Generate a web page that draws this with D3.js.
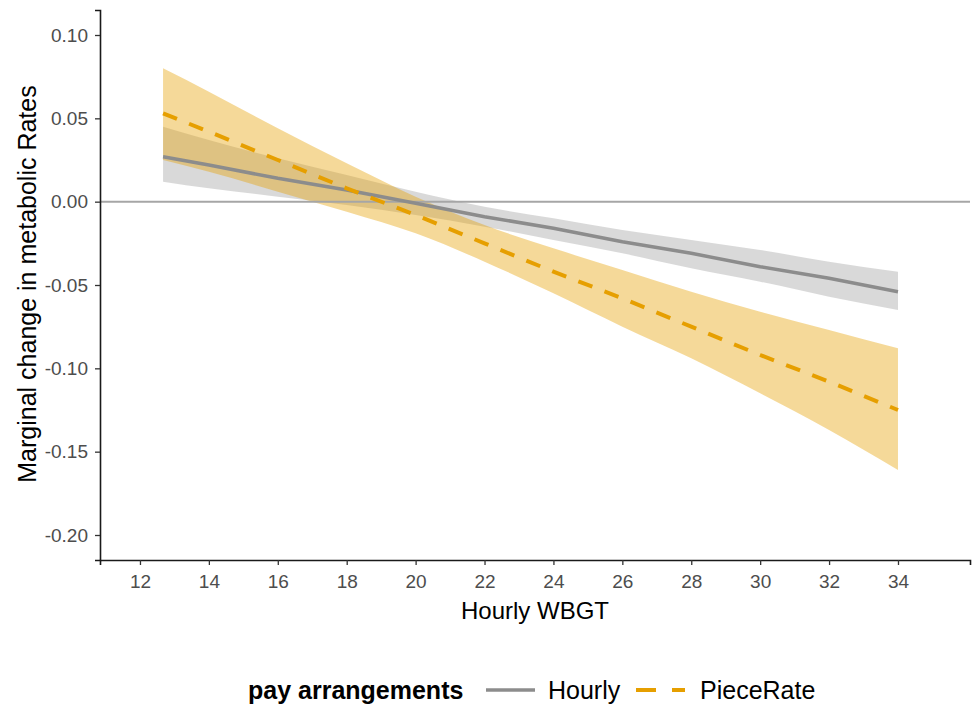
<!DOCTYPE html>
<html>
<head>
<meta charset="utf-8">
<script src="https://cdn.jsdelivr.net/npm/d3@7"></script>
<style>
  body { margin: 0; background: #fff; }
  svg { font-family: "Liberation Sans", Arial, sans-serif; }
</style>
</head>
<body>
<svg id="chart" width="972" height="704"></svg>
<script>
// WBGT values where the fitted lines / ribbons were read
const wbgt = [12.67, 14, 16, 18, 20, 22, 24, 26, 28, 30, 32, 34];

const hourlyFit   = [0.027, 0.022, 0.014, 0.007, -0.001, -0.009, -0.016, -0.024, -0.031, -0.039, -0.046, -0.054];
const hourlyLower = [0.012, 0.008, 0.003, -0.002, -0.008, -0.015, -0.023, -0.031, -0.040, -0.048, -0.057, -0.065];
const hourlyUpper = [0.045, 0.037, 0.026, 0.016, 0.006, -0.003, -0.010, -0.017, -0.023, -0.029, -0.036, -0.042];

const pieceFit   = [0.053, 0.042, 0.025, 0.008, -0.008, -0.025, -0.042, -0.058, -0.075, -0.092, -0.108, -0.125];
const pieceLower = [0.025, 0.018, 0.006, -0.006, -0.019, -0.036, -0.055, -0.075, -0.094, -0.115, -0.137, -0.161];
const pieceUpper = [0.080, 0.066, 0.044, 0.023, 0.003, -0.014, -0.028, -0.041, -0.054, -0.066, -0.077, -0.088];

const xTicks = [12, 14, 16, 18, 20, 22, 24, 26, 28, 30, 32, 34];
const yTicks = [0.10, 0.05, 0.00, -0.05, -0.10, -0.15, -0.20];

const svg = d3.select('#chart');
const mLeft = 100, mRight = 970, mTop = 10, mBottom = 560;

const x = d3.scaleLinear().domain([10.84, 36.09]).range([mLeft, mRight]);
const y = d3.scaleLinear().domain([-0.215, 0.115]).range([mBottom, mTop]);

const series = [
  { name: 'Hourly', fit: hourlyFit, lo: hourlyLower, hi: hourlyUpper,
    line: '#8c8c8c', fill: '#808080', fillOpacity: 0.3, dash: null, width: 3.5 },
  { name: 'PieceRate', fit: pieceFit, lo: pieceLower, hi: pieceUpper,
    line: '#E69F00', fill: '#E69F00', fillOpacity: 0.4, dash: '15,13', width: 4 }
];

const area = d3.area()
  .curve(d3.curveMonotoneX)
  .x((d, i) => x(wbgt[i]))
  .y0(d => y(d[0]))
  .y1(d => y(d[1]));
const line = d3.line()
  .x((d, i) => x(wbgt[i]))
  .y(d => y(d));

const plot = svg.append('g');

series.forEach(s => {
  plot.append('path')
    .datum(s.lo.map((v, i) => [v, s.hi[i]]))
    .attr('d', area)
    .attr('fill', s.fill)
    .attr('fill-opacity', s.fillOpacity);
});

// zero reference line
plot.append('line')
  .attr('x1', mLeft).attr('x2', mRight)
  .attr('y1', y(0)).attr('y2', y(0))
  .attr('stroke', '#a6a6a6')
  .attr('stroke-width', 2);

series.forEach(s => {
  plot.append('path')
    .datum(s.fit)
    .attr('d', line)
    .attr('fill', 'none')
    .attr('stroke', s.line)
    .attr('stroke-width', s.width)
    .attr('stroke-dasharray', s.dash);
});

// axes
const xAxis = d3.axisBottom(x).tickValues(xTicks).tickSize(5).tickPadding(10).tickFormat(d3.format('d'));
const yAxis = d3.axisLeft(y).tickValues(yTicks).tickSize(5).tickPadding(7).tickFormat(d => d.toFixed(2));

const gx = svg.append('g').attr('transform', 'translate(0,' + mBottom + ')').call(xAxis);
const gy = svg.append('g').attr('transform', 'translate(' + mLeft + ',0)').call(yAxis);

[gx, gy].forEach(g => {
  g.select('.domain').attr('stroke', '#1a1a1a').attr('stroke-width', 1.6);
  g.selectAll('.tick line').attr('stroke', '#333').attr('stroke-width', 1.3);
  g.selectAll('.tick text').attr('fill', '#4d4d4d').style('font-size', '19px');
});

svg.append('text')
  .attr('x', (mLeft + mRight) / 2).attr('y', 619)
  .attr('text-anchor', 'middle')
  .style('font-size', '24px').attr('fill', '#000')
  .text('Hourly WBGT');

svg.append('text')
  .attr('transform', 'translate(36,' + ((mTop + mBottom) / 2 - 1) + ') rotate(-90)')
  .attr('text-anchor', 'middle')
  .style('font-size', '25px').attr('fill', '#000')
  .text('Marginal change in metabolic Rates');

// legend
const lg = svg.append('g').attr('transform', 'translate(0,690)');
lg.append('text').attr('x', 248).attr('y', 9)
  .style('font-size', '25px').style('font-weight', 'bold')
  .text('pay arrangements');
const keyX = [486, 636];
const labelX = [548, 700];
series.forEach((s, i) => {
  lg.append('line')
    .attr('x1', keyX[i]).attr('x2', keyX[i] + 49)
    .attr('y1', 0).attr('y2', 0)
    .attr('stroke', s.line)
    .attr('stroke-width', s.width)
    .attr('stroke-dasharray', s.dash ? '20,16' : null);
  lg.append('text').attr('x', labelX[i]).attr('y', 9)
    .style('font-size', '25px').attr('fill', '#000')
    .text(s.name);
});
</script>
</body>
</html>
